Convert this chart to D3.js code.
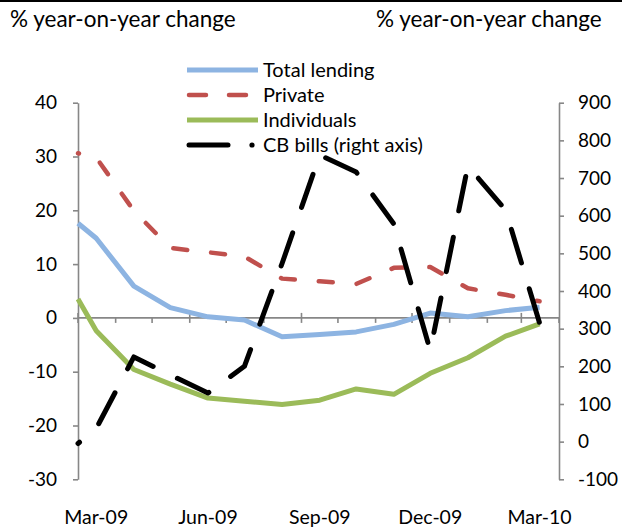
<!DOCTYPE html>
<html>
<head>
<meta charset="utf-8">
<script src="https://cdnjs.cloudflare.com/ajax/libs/d3/7.8.5/d3.min.js"></script>
<style>
	body { margin: 0; background: #fff; }
	svg { display: block; font-family: Lato, 'Liberation Sans', sans-serif; }
	.axis path, .axis line { stroke: #878787; stroke-width: 1.6; }
	.axis text { fill: #000; font-size: 19px; font-family: Lato, sans-serif; }
</style>
</head>
<body>
<div id="chart"></div>
<script>
let width = 622
let height = 527

// observation dates (first point at start of Mar-09, then mid-month)
let dates = ['2009-03-01','2009-03-16','2009-04-16','2009-05-16','2009-06-16','2009-07-16','2009-08-16',
	'2009-09-16','2009-10-16','2009-11-16','2009-12-16','2010-01-16','2010-02-16','2010-03-16']

let totalLending = [17.6, 14.8, 5.9, 1.9, 0.2, -0.4, -3.5, -3.1, -2.6, -1.2, 0.9, 0.2, 1.35, 2.0]
let privateLending = [30.6, 29.8, 19.9, 13.0, 12.2, 11.4, 7.3, 6.8, 6.3, 9.3, 9.45, 5.5, 4.3, 3.1]
let individuals = [3.5, -2.4, -9.6, -12.3, -14.9, -15.5, -16.1, -15.3, -13.2, -14.2, -10.3, -7.4, -3.4, -1.1]
let cbBills = [-5, 35, 225, 177, 129, 200, 473, 761, 716, 578, 242, 732, 615, 315]

let leftTicks = [-30, -20, -10, 0, 10, 20, 30, 40]
let rightTicks = [-100, 0, 100, 200, 300, 400, 500, 600, 700, 800, 900]
let xLabelDates = ['2009-03-16','2009-06-16','2009-09-16','2009-12-16','2010-03-16']
let xLabels = ['Mar-09','Jun-09','Sep-09','Dec-09','Mar-10']

let legendNames = ['Total lending','Private','Individuals','CB bills (right axis)']

let plot = { left: 78, right: 559, top: 102.7, bottom: 479.3 }

let parse = d3.timeParse('%Y-%m-%d')

function plain(d) {
	return String(d)
}

let xScale = d3.scaleTime()
	.domain([parse('2009-03-01'), parse('2010-04-01')])
	.range([plot.left, plot.right])

let yLeft = d3.scaleLinear()
	.domain([-30, 40])
	.range([plot.bottom, plot.top])

let yRight = d3.scaleLinear()
	.domain([-100, 900])
	.range([plot.bottom, plot.top])

let svg = d3.select('#chart').append('svg')
	.attr('width', width)
	.attr('height', height)

// top rule
svg.append('rect')
	.attr('x', 0).attr('y', 0)
	.attr('width', width).attr('height', 2)
	.attr('fill', '#000')

// axis titles
svg.append('text')
	.text('% year-on-year change')
	.attr('x', 10).attr('y', 27)
	.attr('font-size', 22.5)

svg.append('text')
	.text('% year-on-year change')
	.attr('x', 376).attr('y', 27)
	.attr('font-size', 22.5)

// left axis
svg.append('g')
	.attr('class', 'axis')
	.attr('transform', `translate(${plot.left},0)`)
	.call(d3.axisLeft(yLeft).tickValues(leftTicks).tickFormat(plain).tickSize(5).tickSizeOuter(0).tickPadding(16))

// right axis
svg.append('g')
	.attr('class', 'axis')
	.attr('transform', `translate(${plot.right},0)`)
	.call(d3.axisRight(yRight).tickValues(rightTicks).tickFormat(plain).tickSize(5).tickSizeOuter(0).tickPadding(14))

// x axis on the zero line
let xAxisG = svg.append('g')
	.attr('class', 'axis')
	.attr('transform', `translate(0,${yLeft(0)})`)

let months = d3.timeMonth.range(parse('2009-03-01'), parse('2010-04-02'))

xAxisG.append('line')
	.attr('x1', plot.left).attr('x2', plot.right)
	.attr('y1', 0).attr('y2', 0)

xAxisG.selectAll('.tick-m')
	.data(months)
	.enter()
	.append('line')
	.attr('x1', (d) => xScale(d))
	.attr('x2', (d) => xScale(d))
	.attr('y1', (d) => d.getMonth() % 3 == 2 ? -5 : 0)
	.attr('y2', 5)

svg.append('g')
	.selectAll('text')
	.data(xLabelDates)
	.enter()
	.append('text')
	.text((d, i) => xLabels[i])
	.attr('x', (d) => xScale(parse(d)))
	.attr('y', 524)
	.attr('text-anchor', 'middle')
	.attr('font-size', 19.5)

// series
let series = [
	{ values: totalLending, y: yLeft, color: '#8db4e2', w: 5, dash: null, off: 0 },
	{ values: privateLending, y: yLeft, color: '#c0504d', w: 4.5, dash: '14,24', off: 13 },
	{ values: individuals, y: yLeft, color: '#9bbb59', w: 5, dash: null, off: 0 },
	{ values: cbBills, y: yRight, color: '#000000', w: 5, dash: '35,27', off: 33 },
]

let marks = svg.append('g')

series.forEach((s) => {
	let line = d3.line()
		.x((d, i) => xScale(parse(dates[i])))
		.y((d) => s.y(d))

	marks.append('path')
		.datum(s.values)
		.attr('d', line)
		.attr('fill', 'none')
		.attr('stroke', s.color)
		.attr('stroke-width', s.w)
		.attr('stroke-linejoin', 'round')
		.attr('stroke-linecap', s.dash ? 'round' : 'butt')
		.attr('stroke-dasharray', s.dash)
		.attr('stroke-dashoffset', s.off)
})

// legend
let legend = svg.append('g')
let legendY = [70, 95, 120, 145]

series.forEach((s, i) => {
	let g = legend.append('g').attr('transform', `translate(0,${legendY[i]})`)
	if (i == 3) {
		g.append('line')
			.attr('x1', 189).attr('x2', 228).attr('y1', 0).attr('y2', 0)
			.attr('stroke', '#000').attr('stroke-width', 5).attr('stroke-linecap', 'round')
		g.append('circle')
			.attr('cx', 252).attr('cy', 0).attr('r', 2.6)
			.attr('fill', '#000')
	} else if (i == 1) {
		g.append('line')
			.attr('x1', 189).attr('x2', 256).attr('y1', 0).attr('y2', 0)
			.attr('stroke', s.color).attr('stroke-width', 4.5).attr('stroke-linecap', 'round')
			.attr('stroke-dasharray', '17,23')
	} else {
		g.append('line')
			.attr('x1', 187).attr('x2', 258).attr('y1', 0).attr('y2', 0)
			.attr('stroke', s.color).attr('stroke-width', 5)
	}
	g.append('text')
		.text(legendNames[i])
		.attr('x', 263)
		.attr('y', 7)
		.attr('font-size', 20)
})
</script>
</body>
</html>
